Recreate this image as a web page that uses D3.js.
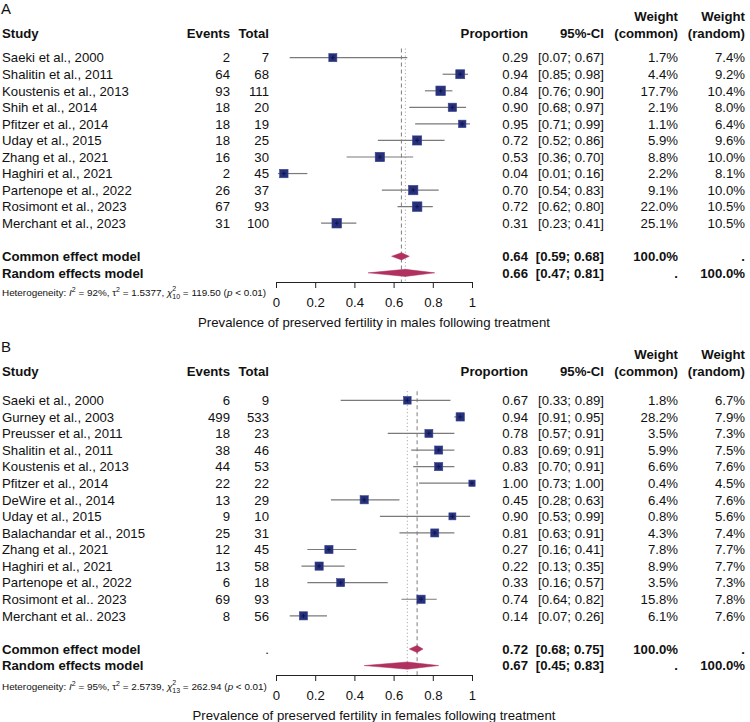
<!DOCTYPE html>
<html><head><meta charset="utf-8">
<script src="https://cdn.jsdelivr.net/npm/d3@7"></script>
<style>
body{margin:0;background:#fff;}
svg text{font-family:"Liberation Sans",Arial,Helvetica,sans-serif;fill:#111;}
</style></head>
<body><svg id="c" width="750" height="722"></svg>
<script>
// ---- Panel A data (males) ----
const studiesA = ["Saeki et al., 2000","Shalitin et al., 2011","Koustenis et al., 2013","Shih et al., 2014","Pfitzer et al., 2014","Uday et al., 2015","Zhang et al., 2021","Haghiri et al., 2021","Partenope et al., 2022","Rosimont et al., 2023","Merchant et al., 2023"];
const eventsA = [2,64,93,18,18,18,16,2,26,67,31];
const totalA  = [7,68,111,20,19,25,30,45,37,93,100];
const propA   = [0.29,0.94,0.84,0.90,0.95,0.72,0.53,0.04,0.70,0.72,0.31];
const lowerA  = [0.07,0.85,0.76,0.68,0.71,0.52,0.36,0.01,0.54,0.62,0.23];
const upperA  = [0.67,0.98,0.90,0.97,0.99,0.86,0.70,0.16,0.83,0.80,0.41];
const wCommonA = [1.7,4.4,17.7,2.1,1.1,5.9,8.8,2.2,9.1,22.0,25.1];
const wRandomA = [7.4,9.2,10.4,8.0,6.4,9.6,10.0,8.1,10.0,10.5,10.5];
const modelA = [0.64,0.59,0.68,0.66,0.47,0.81]; // common est, lo, hi, random est, lo, hi
const hetA = ["92%","1.5377","10","119.50"];
const titleA = "Prevalence of preserved fertility in males following treatment";

// ---- Panel B data (females) ----
const studiesB = ["Saeki et al., 2000","Gurney et al., 2003","Preusser et al., 2011","Shalitin et al., 2011","Koustenis et al., 2013","Pfitzer et al., 2014","DeWire et al., 2014","Uday et al., 2015","Balachandar et al., 2015","Zhang et al., 2021","Haghiri et al., 2021","Partenope et al., 2022","Rosimont et al.. 2023","Merchant et al.. 2023"];
const eventsB = [6,499,18,38,44,22,13,9,25,12,13,6,69,8];
const totalB  = [9,533,23,46,53,22,29,10,31,45,58,18,93,56];
const propB   = [0.67,0.94,0.78,0.83,0.83,1.00,0.45,0.90,0.81,0.27,0.22,0.33,0.74,0.14];
const lowerB  = [0.33,0.91,0.57,0.69,0.70,0.73,0.28,0.53,0.63,0.16,0.13,0.16,0.64,0.07];
const upperB  = [0.89,0.95,0.91,0.91,0.91,1.00,0.63,0.99,0.91,0.41,0.35,0.57,0.82,0.26];
const wCommonB = [1.8,28.2,3.5,5.9,6.6,0.4,6.4,0.8,4.3,7.8,8.9,3.5,15.8,6.1];
const wRandomB = [6.7,7.9,7.3,7.5,7.6,4.5,7.6,5.6,7.4,7.7,7.7,7.3,7.8,7.6];
const modelB = [0.72,0.68,0.75,0.67,0.45,0.83];
const hetB = ["95%","2.5739","13","262.94"];
const titleB = "Prevalence of preserved fertility in females following treatment";

const axisTicks = [0,0.2,0.4,0.6,0.8,1];

const svg = d3.select("#c");
const x = d3.scaleLinear().domain([0,1]).range([276,472]);
const sq = d3.scaleSqrt().domain([0,10.5]).range([0,9.6]);

const col = {study:2, events:230, total:269, prop:528, ci:604, wc:678, wr:745};
const FS = 13.2;
const f2 = d3.format(".2f"), f1 = d => d3.format(".1f")(d)+"%";

function panel(o){
  const g = svg.append("g");
  const y = d3.scaleLinear().domain([0,1]).range([o.y0, o.y0+o.step]);
  const n = o.studies.length;
  const iC = n+1, iR = n+2;
  const txt = (xx, yy, s, anchor, bold, size) => g.append("text")
      .attr("x",xx).attr("y",yy).attr("dy","0.36em")
      .attr("text-anchor",anchor||"start")
      .attr("font-size",size||FS).attr("font-weight",bold?"bold":null).text(s);

  // panel label & headers
  txt(1, o.labelY, o.label, "start", false, 15);
  txt(col.study, o.headY, "Study", "start", true);
  txt(col.events, o.headY, "Events", "end", true);
  txt(col.total, o.headY, "Total", "end", true);
  txt(col.prop, o.headY, "Proportion", "end", true);
  txt(col.ci, o.headY, "95%-CI", "end", true);
  txt(col.wc, o.headY-17, "Weight", "end", true);
  txt(col.wc, o.headY, "(common)", "end", true);
  txt(col.wr, o.headY-17, "Weight", "end", true);
  txt(col.wr, o.headY, "(random)", "end", true);

  // study rows text
  o.studies.forEach((s,i)=>{
    const yy = y(i);
    txt(col.study, yy, s);
    txt(col.events, yy, o.events[i], "end");
    txt(col.total, yy, o.total[i], "end");
    txt(col.prop, yy, f2(o.prop[i]), "end");
    txt(col.ci, yy, "["+f2(o.lower[i])+"; "+f2(o.upper[i])+"]", "end");
    txt(col.wc, yy, f1(o.wc[i]), "end");
    txt(col.wr, yy, f1(o.wr[i]), "end");
  });
  // model rows
  const m = o.model;
  txt(col.study, y(iC), "Common effect model", "start", true);
  txt(col.study, y(iR), "Random effects model", "start", true);
  if (o.commonDot) txt(col.total, y(iC), ".", "end", false);
  txt(col.prop, y(iC), f2(m[0]), "end", true);
  txt(col.ci, y(iC), "["+f2(m[1])+"; "+f2(m[2])+"]", "end", true);
  txt(col.wc, y(iC), "100.0%", "end", true);
  txt(col.wr, y(iC), ".", "end", true);
  txt(col.prop, y(iR), f2(m[3]), "end", true);
  txt(col.ci, y(iR), "["+f2(m[4])+"; "+f2(m[5])+"]", "end", true);
  txt(col.wc, y(iR), ".", "end", true);
  txt(col.wr, y(iR), "100.0%", "end", true);

  // reference lines
  const topY = y(-0.55), botY = o.axisY;
  g.append("line").attr("x1",x(m[0])).attr("x2",x(m[0])).attr("y1",topY).attr("y2",botY)
    .attr("stroke","#8a8a8a").attr("stroke-width",1.1).attr("stroke-dasharray","4,3");
  g.append("line").attr("x1",x(m[3])).attr("x2",x(m[3])).attr("y1",topY).attr("y2",botY)
    .attr("stroke","#9a9a9a").attr("stroke-width",1).attr("stroke-dasharray","1,2.5");

  // CI lines and squares
  o.studies.forEach((s,i)=>{
    const yy = y(i);
    g.append("line").attr("x1",x(o.lower[i])).attr("x2",x(o.upper[i])).attr("y1",yy).attr("y2",yy)
      .attr("stroke","#7a7a7a").attr("stroke-width",1.2);
    const w = sq(o.wr[i]);
    g.append("rect").attr("x",x(o.prop[i])-w/2).attr("y",yy-w/2).attr("width",w).attr("height",w)
      .attr("fill","#27307a").attr("stroke","#3a4590").attr("stroke-width",0.6);
    g.append("line").attr("x1",x(o.prop[i])-2).attr("x2",x(o.prop[i])+2).attr("y1",yy).attr("y2",yy)
      .attr("stroke","#10164a").attr("stroke-width",1);
    g.append("line").attr("x1",x(o.prop[i])).attr("x2",x(o.prop[i])).attr("y1",yy-2).attr("y2",yy+2)
      .attr("stroke","#10164a").attr("stroke-width",1);
  });
  // diamonds
  const dia = (est,lo,hi,yy,h) => g.append("path")
    .attr("d", d3.line()([[x(lo),yy],[x(est),yy-h],[x(hi),yy],[x(est),yy+h]])+"Z")
    .attr("fill","#b03060").attr("stroke","#b03060").attr("stroke-width",0.5);
  dia(m[0],m[1],m[2],y(iC),3.6);
  dia(m[3],m[4],m[5],y(iR),3.6);

  // axis
  const ax = g.append("g").attr("transform","translate(0,"+o.axisY+")")
    .call(d3.axisBottom(x).tickValues(axisTicks).tickSize(6).tickSizeOuter(0).tickPadding(10)
      .tickFormat(d=>String(d)));
  ax.select(".domain").attr("stroke","#222");
  ax.selectAll(".tick line").attr("stroke","#222");
  ax.selectAll(".tick text").attr("font-size",FS).attr("fill","#111")
    .attr("font-family","Liberation Sans, Arial, sans-serif");
  g.append("text").attr("x",(x(0)+x(1))/2).attr("y",o.axisY+40).attr("dy","0.36em")
    .attr("text-anchor","middle").attr("font-size",FS).text(o.title);

  // heterogeneity
  const h = g.append("text").attr("x",2).attr("y",o.hetY).attr("dy","0.36em").attr("font-size",9.9);
  h.append("tspan").text("Heterogeneity: ");
  h.append("tspan").attr("font-style","italic").text("I");
  h.append("tspan").attr("font-size",7).attr("dy",-4).text("2");
  h.append("tspan").attr("dy",4).text(" = "+o.het[0]+", \u03c4");
  h.append("tspan").attr("font-size",7).attr("dy",-4).text("2");
  h.append("tspan").attr("dy",4).text(" = "+o.het[1]+", ");
  h.append("tspan").attr("font-style","italic").text("\u03c7");
  h.append("tspan").attr("font-size",7).attr("dy",-4.5).text("2");
  h.append("tspan").attr("font-size",7).attr("dx",-3.9).attr("dy",7.5).text(o.het[2]);
  h.append("tspan").attr("dy",-3).text(" = "+o.het[3]+" (");
  h.append("tspan").attr("font-style","italic").text("p");
  h.append("tspan").text(" < 0.01)");
}

panel({label:"A", labelY:9, headY:33, y0:57.7, step:16.55, axisY:282,
  hetY:292, studies:studiesA, events:eventsA, total:totalA, prop:propA, lower:lowerA, upper:upperA,
  wc:wCommonA, wr:wRandomA, model:modelA, het:hetA, title:titleA, commonDot:false});
panel({label:"B", labelY:347, headY:371, y0:400.3, step:16.58, axisY:675,
  hetY:686, studies:studiesB, events:eventsB, total:totalB, prop:propB, lower:lowerB, upper:upperB,
  wc:wCommonB, wr:wRandomB, model:modelB, het:hetB, title:titleB, commonDot:true});
</script></body></html>
